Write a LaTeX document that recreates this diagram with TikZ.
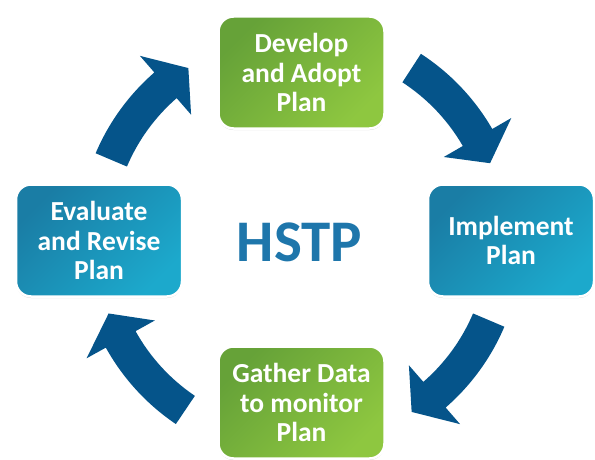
\documentclass[tikz,border=0pt]{standalone}
\usepackage{fontspec}
\setmainfont{Carlito}
\usetikzlibrary{shadows}
\definecolor{arrowblue}{HTML}{05548A}
\definecolor{gDark}{HTML}{66A238}
\definecolor{gLight}{HTML}{8EC740}
\definecolor{bDark}{HTML}{1A7DA5}
\definecolor{bLight}{HTML}{1CA9CC}
\definecolor{hstpblue}{HTML}{1E76AB}
\newcommand{\ringarrow}[3]{%
  \fill[arrowblue] (#1:222pt) arc[start angle=#1, end angle=#2, radius=222pt]
    -- (#2:244pt) -- (#3:205pt) -- (#2:166pt) -- (#2:188pt)
    arc[start angle=#2, end angle=#1, radius=188pt] -- cycle;}
\begin{document}
\begin{tikzpicture}[x=1pt,y=1pt,
  box/.style={draw=white, line width=2.5pt, rounded corners=15pt,
    minimum width=166pt, minimum height=112pt, align=center, text=white,
    font=\fontsize{27.5}{29.5}\selectfont\bfseries,
    drop shadow={shadow xshift=0pt, shadow yshift=-1.5pt, opacity=0.3, fill=black!60}},
  greenbox/.style={box, top color=gDark, bottom color=gLight, shading angle=45},
  bluebox/.style={box, top color=bDark, bottom color=bLight, shading angle=45}]
\useasboundingbox (0,0) rectangle (595,-460);
\begin{scope}[shift={(300,-240)}]
  \ringarrow{57}{30}{22}
  \ringarrow{-23}{-49}{-57}
  \ringarrow{236}{209}{201}
  \ringarrow{157}{131}{123}
\end{scope}
\node[greenbox] (develop) at (301.5,-72.5) {Develop\\and Adopt\\Plan};
\node[bluebox] (implement) at (511,-240.5) {Implement\\Plan};
\node[greenbox] (gather) at (301.5,-402.5) {Gather Data\\to monitor\\Plan};
\node[bluebox] (evaluate) at (99,-240.5) {Evaluate\\and Revise\\Plan};
\node[text=hstpblue, font=\fontsize{59}{59}\selectfont\bfseries] (hstp) at (299.5,-242) {HSTP};
\end{tikzpicture}
\end{document}
